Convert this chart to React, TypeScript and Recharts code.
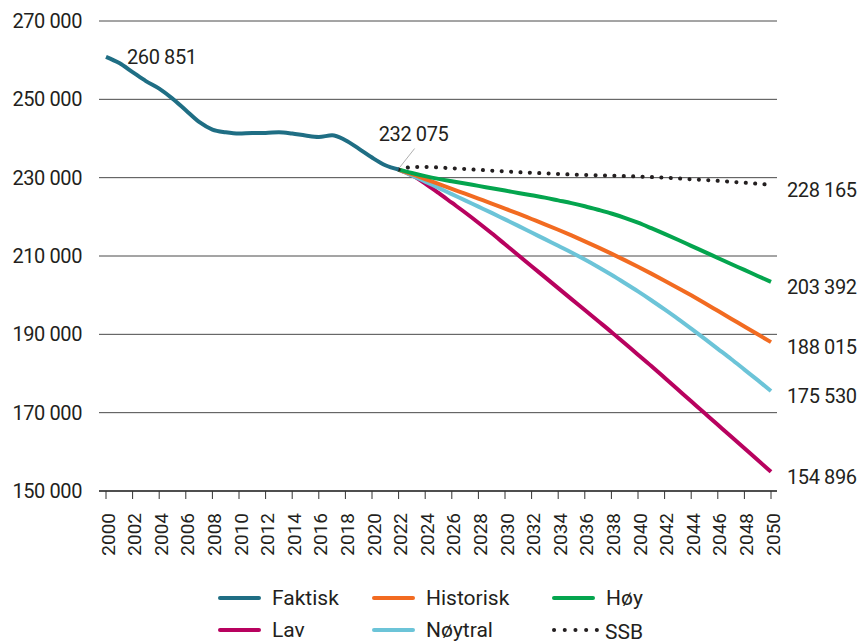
import { LineChart, Line, XAxis, YAxis, CartesianGrid } from "recharts";

const years = [
  2000, 2001, 2002, 2003, 2004, 2005, 2006, 2007, 2008, 2009,
  2010, 2011, 2012, 2013, 2014, 2015, 2016, 2017, 2018, 2019,
  2020, 2021, 2022, 2023, 2024, 2025, 2026, 2027, 2028, 2029,
  2030, 2031, 2032, 2033, 2034, 2035, 2036, 2037, 2038, 2039,
  2040, 2041, 2042, 2043, 2044, 2045, 2046, 2047, 2048, 2049, 2050,
];
const xTicks = [
  2000, 2002, 2004, 2006, 2008, 2010, 2012, 2014, 2016, 2018, 2020, 2022, 2024,
  2026, 2028, 2030, 2032, 2034, 2036, 2038, 2040, 2042, 2044, 2046, 2048, 2050,
];
const yTicks = [150000, 170000, 190000, 210000, 230000, 250000, 270000];

// 2000–2022
const faktisk = [
  260851, 259250, 256960, 254660, 252720, 250180, 247200, 244220, 242280, 241590,
  241260, 241420, 241420, 241590, 241260, 240750, 240400, 240830, 239550, 237430,
  235140, 233180, 232075,
];
// 2022–2050
const historisk = [
  232075, 230900, 229650, 228400, 227150, 225900, 224650, 223400, 222100, 220800,
  219450, 218100, 216700, 215250, 213750, 212200, 210600, 208950, 207250, 205500,
  203700, 201850, 199950, 198000, 196000, 194000, 192000, 190000, 188015,
];
const hoy = [
  232075, 231200, 230400, 229700, 229100, 228500, 227900, 227300, 226700, 226100,
  225500, 224900, 224200, 223500, 222700, 221800, 220850, 219750, 218500, 217100,
  215650, 214150, 212600, 211050, 209500, 207950, 206450, 204900, 203392,
];
const lav = [
  232075, 230600, 228500, 226100, 223600, 221100, 218500, 215800, 213000, 210200,
  207400, 204600, 201800, 199000, 196200, 193400, 190600, 187700, 184800, 181900,
  178900, 175900, 172900, 169900, 166900, 163900, 160900, 157900, 154896,
];
const noytral = [
  232075, 230600, 229000, 227400, 225800, 224200, 222600, 221000, 219350, 217700,
  216000, 214300, 212600, 210900, 209100, 207200, 205200, 203100, 200950, 198700,
  196350, 193950, 191450, 188900, 186300, 183700, 181000, 178300, 175530,
];
const ssb = [
  232075, 232700, 232750, 232600, 232400, 232200, 232000, 231800, 231600, 231400,
  231250, 231100, 230950, 230800, 230700, 230600, 230500, 230400, 230300, 230150,
  230000, 229800, 229600, 229400, 229200, 228950, 228700, 228450, 228165,
];

const START = 2022;
const series = [
  { key: "lav", name: "Lav", color: "#b8025f", values: lav },
  { key: "noytral", name: "Nøytral", color: "#6cc4d8", values: noytral },
  { key: "historisk", name: "Historisk", color: "#f26b21", values: historisk },
  { key: "hoy", name: "Høy", color: "#04a54e", values: hoy },
];

const data = years.map((year, i) => {
  const row: Record<string, number | null> = { year };
  row.faktisk = i < faktisk.length ? faktisk[i] : null;
  const j = year - START;
  for (const s of series) row[s.key] = j >= 0 ? s.values[j] : null;
  row.ssb = j >= 0 ? ssb[j] : null;
  return row;
});

const FONT = "Roboto, sans-serif";
const INK = "#231f20";
const fmt = (v: number) => String(v).replace(/\B(?=(\d{3})+(?!\d))/g, " ");

const XTick = (props: any) => {
  const { x, y, payload } = props;
  const px = x + 2;
  return (
    <text
      x={px}
      y={y}
      transform={`rotate(-90, ${px}, ${y})`}
      textAnchor="end"
      dominantBaseline="central"
      fontSize={19}
      fontFamily={FONT}
      fill={INK}
    >
      {payload.value}
    </text>
  );
};

// value label at the last point of a series
const endLabel = (props: any) => {
  const { cx, cy, payload, value, index } = props;
  if (payload.year !== 2050 || cy == null) return <g key={`n${index}`} />;
  return (
    <text
      key={`l${index}`}
      x={cx + 16}
      y={cy + 5}
      dominantBaseline="central"
      fontSize={20}
      fontFamily={FONT}
      fill={INK}
      letterSpacing={-0.4}
    >
      {fmt(value)}
    </text>
  );
};

const faktiskLabel = (props: any) => {
  const { cx, cy, payload, value, index } = props;
  if (payload.year === 2000) {
    return (
      <text key="a0" x={cx + 21} y={cy} dominantBaseline="central" fontSize={20}
        fontFamily={FONT} fill={INK} letterSpacing={-0.4}>
        {fmt(value)}
      </text>
    );
  }
  if (payload.year === START) {
    return (
      <g key="a1">
        <line x1={cx + 1} y1={cy - 2} x2={cx + 16} y2={cy - 21} stroke="#b0b0b0" strokeWidth={1} />
        <text x={cx + 15} y={cy - 36} textAnchor="middle" dominantBaseline="central"
          fontSize={20} fontFamily={FONT} fill={INK} letterSpacing={-0.4}>
          {fmt(value)}
        </text>
      </g>
    );
  }
  return <g key={`f${index}`} />;
};

const legendItems = [
  { name: "Faktisk", color: "#1f6e84", dotted: false },
  { name: "Historisk", color: "#f26b21", dotted: false },
  { name: "Høy", color: "#04a54e", dotted: false },
  { name: "Lav", color: "#b8025f", dotted: false },
  { name: "Nøytral", color: "#6cc4d8", dotted: false },
  { name: "SSB", color: "#231f20", dotted: true },
];

export default function App() {
  return (
    <div style={{ position: "absolute", left: 0, top: 0, width: 860, height: 644, background: "#fff" }}>
      <LineChart width={860} height={644} data={data} margin={{ top: 21, right: 83, bottom: 123, left: 0 }}>
        <CartesianGrid vertical={false} stroke="#4a4a4a" strokeWidth={1} />
        <XAxis
          dataKey="year"
          type="number"
          domain={[2000, 2050]}
          ticks={xTicks}
          interval={0}
          padding={{ left: 7, right: 6 }}
          height={30}
          stroke="#333"
          axisLine={{ stroke: "#333", strokeWidth: 1.5 }}
          tickLine={{ stroke: "#333" }}
          tickSize={8}
          tickMargin={14}
          tick={<XTick />}
        />
        <YAxis
          type="number"
          domain={[150000, 270000]}
          ticks={yTicks}
          width={99}
          axisLine={false}
          tickLine={false}
          tickSize={0}
          tickMargin={17}
          tickFormatter={fmt}
          tick={{ fontSize: 20, fontFamily: FONT, fill: INK, letterSpacing: -0.4 }}
        />
        {series.map((s) => (
          <Line
            key={s.key}
            dataKey={s.key}
            type="monotone"
            stroke={s.color}
            strokeWidth={4}
            dot={endLabel}
            activeDot={false}
            connectNulls={false}
            isAnimationActive={false}
          />
        ))}
        <Line
          dataKey="ssb"
          type="monotone"
          stroke="#231f20"
          strokeWidth={4}
          strokeLinecap="round"
          strokeDasharray="0.1 9.3"
          dot={endLabel}
          activeDot={false}
          isAnimationActive={false}
        />
        <Line
          dataKey="faktisk"
          type="monotone"
          stroke="#1f6e84"
          strokeWidth={4}
          dot={faktiskLabel}
          activeDot={false}
          isAnimationActive={false}
        />
      </LineChart>
      <div
        style={{
          position: "absolute",
          left: 218,
          top: 582,
          display: "grid",
          gridTemplateColumns: "154px 180px 120px",
          gridAutoRows: "32px",
          fontFamily: FONT,
          fontSize: 21,
          color: INK,
        }}
      >
        {legendItems.map((it) => (
          <div key={it.name} style={{ display: "flex", alignItems: "center" }}>
            {it.dotted ? (
              <svg width={47} height={8} style={{ marginRight: 6 }}>
                <line x1={2} y1={4} x2={45} y2={4} stroke={it.color} strokeWidth={4}
                  strokeLinecap="round" strokeDasharray="0.1 10.6" />
              </svg>
            ) : (
              <span style={{ display: "inline-block", width: 43, height: 4, borderRadius: 2, background: it.color, marginRight: 11 }} />
            )}
            <span style={it.dotted ? { position: "relative", top: 2 } : undefined}>{it.name}</span>
          </div>
        ))}
      </div>
    </div>
  );
}
